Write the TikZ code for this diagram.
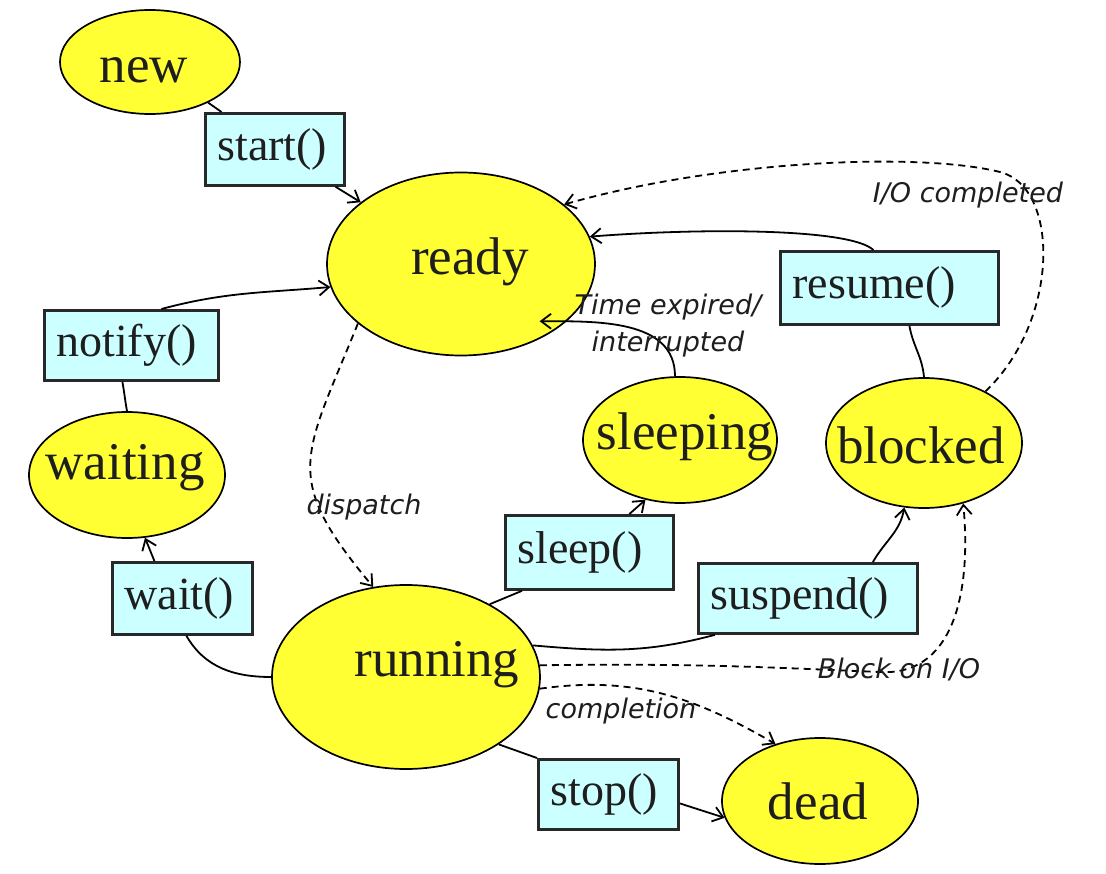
\documentclass[tikz,border=0pt]{standalone}
\usepackage{fontspec}
\setmainfont{Liberation Serif}
\newfontfamily\labfont{DejaVu Sans}
\usetikzlibrary{shapes.geometric,arrows.meta}
\definecolor{stateyellow}{RGB}{255,255,51}
\definecolor{boxcyan}{RGB}{204,255,255}
\definecolor{boxline}{RGB}{40,40,40}
\definecolor{inkcol}{RGB}{30,30,30}
\begin{document}
\begin{tikzpicture}[x=1pt,y=-1pt,
 state/.style={ellipse, draw=black, fill=stateyellow, line width=1.7pt, inner sep=0pt},
 statetext/.style={font=\fontsize{53}{60}\selectfont, text=inkcol, inner sep=0pt},
 methodbox/.style={rectangle, draw=boxline, fill=boxcyan, line width=2.8pt, anchor=north west, align=left, inner xsep=12pt, inner ysep=0pt, font=\fontsize{46}{52}\selectfont, text=inkcol},
 conn/.style={line width=1.8pt, draw=black},
 arr/.style={conn, -{Straight Barb[length=10pt,width=15pt]}},
 darr/.style={conn, dash pattern=on 7pt off 5pt, -{Straight Barb[length=10pt,width=15pt]}},
 edgelabel/.style={font=\labfont\itshape\fontsize{27}{37}\selectfont, inner sep=0pt, text=inkcol, align=center}
]
\useasboundingbox (0,0) rectangle (1106,874);

% states
\node[state, minimum width=180pt, minimum height=104pt] (new) at (150,62) {};
\node[state, minimum width=268pt, minimum height=183pt] (ready) at (461,264) {};
\node[state, minimum width=194pt, minimum height=126pt] (sleeping) at (680,440) {};
\node[state, minimum width=196pt, minimum height=130pt] (blocked) at (924,443) {};
\node[state, minimum width=196pt, minimum height=126pt] (waiting) at (127,475) {};
\node[state, minimum width=268pt, minimum height=184pt] (running) at (406,677) {};
\node[state, minimum width=196pt, minimum height=126pt] (dead) at (820,801) {};

\node[statetext] (newt) at (144,70) {new};
\node[statetext] (readyt) at (470,262) {ready};
\node[statetext] (sleepingt) at (685,437) {sleeping};
\node[statetext] (blockedt) at (921,445) {blocked};
\node[statetext] (waitingt) at (125,468) {waiting};
\node[statetext] (runningt) at (437,665) {running};
\node[statetext] (deadt) at (818,801) {dead};

% method boxes
\node[methodbox, text width=115pt, minimum height=72pt] (start) at (204,112) {start()};
\node[methodbox, text width=194pt, minimum height=73pt] (resume) at (779,250) {resume()};
\node[methodbox, text width=150pt, minimum height=70pt] (notify) at (43,309) {notify()};
\node[methodbox, text width=116pt, minimum height=72pt] (wait) at (111,561) {wait()};
\node[methodbox, text width=144pt, minimum height=74pt] (sleep) at (504,514) {sleep()};
\node[methodbox, text width=195pt, minimum height=70pt] (suspend) at (697,562) {suspend()};
\node[methodbox, text width=116pt, minimum height=70pt] (stop) at (537,758) {stop()};

% connectors
\draw[conn] (new) -- (start);
\draw[arr] (start) -- (ready);
\draw[arr] ([xshift=30pt]notify.north) to[out=15,in=185] (ready.190);
\draw[conn] ([xshift=-9pt]notify.south) to[out=-80,in=100] (waiting.north);
\draw[arr] ([xshift=-28pt]wait.north) -- (waiting.-74);
\draw[conn] (running.west) to[out=180,in=-60] ([xshift=4pt]wait.south);
\draw[darr] (ready.210) to[out=-112,in=130,looseness=1.4] (running.110);
\draw[arr] ([xshift=-16pt]resume.north) .. controls (850,228) and (700,228) .. (ready.12);
\draw[conn] ([xshift=20pt]resume.south) to[out=-80,in=95] (blocked.north);
\draw[darr] (blocked.40) .. controls (1060,320) and (1060,187) .. (1000,172) .. controls (920,152) and (720,160) .. (ready.30);
\draw[arr] ([xshift=-5pt]sleeping.north) to[out=90,in=0] ([xshift=-21pt,yshift=5pt]ready.-32);
\draw[conn] (running.41) -- ([xshift=18pt]sleep.south west);
\draw[arr] ([xshift=40pt]sleep.north) -- (sleeping.-120);
\draw[conn] (running.14) to[out=-5,in=195] ([xshift=18pt]suspend.south west);
\draw[arr] ([xshift=65pt]suspend.north) to[out=60,in=-100] (blocked.-107);
\draw[darr] (running.5) .. controls (700,663) and (780,668) .. (880,672) .. controls (950,676) and (972,600) .. (blocked.-57);
\draw[darr] (running.-5) to[out=8,in=150] (dead.128);
\draw[conn] (running.-36) -- (stop.north west);
\draw[arr] ([yshift=-9pt]stop.east) -- (dead.-170);

% labels
\node[edgelabel] (lblio) at (968,195) {I/O completed};
\node[edgelabel] (lbltime) at (668,326) {Time expired/\\interrupted};
\node[edgelabel] (lbldispatch) at (364,507) {dispatch};
\node[edgelabel] (lblblock) at (899,669) {Block on I/O};
\node[edgelabel] (lblcompl) at (621,711) {completion};
\end{tikzpicture}
\end{document}
